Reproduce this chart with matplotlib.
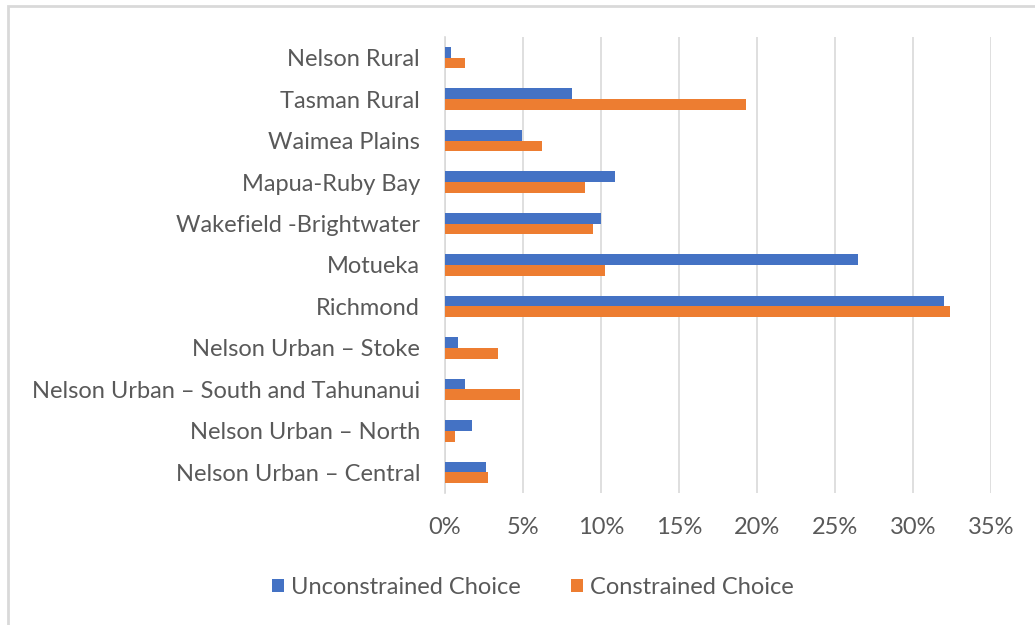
import matplotlib.pyplot as plt
import numpy as np
from matplotlib.patches import Rectangle
from matplotlib.ticker import FuncFormatter

# Areas listed top to bottom as in the chart
areas = ["Nelson Rural", "Tasman Rural", "Waimea Plains", "Mapua-Ruby Bay",
         "Wakefield -Brightwater", "Motueka", "Richmond",
         "Nelson Urban \u2013 Stoke", "Nelson Urban \u2013 South and Tahunanui",
         "Nelson Urban \u2013 North", "Nelson Urban \u2013 Central"]
unconstrained = [0.4, 8.15, 4.95, 10.9, 10.0, 26.5, 32.0, 0.85, 1.3, 1.75, 2.6]
constrained = [1.3, 19.3, 6.2, 8.95, 9.5, 10.25, 32.4, 3.4, 4.8, 0.65, 2.75]
xticks = [0, 5, 10, 15, 20, 25, 30, 35]

blue = "#4472C4"
orange = "#ED7D31"
grey_text = "#595959"

plt.rcParams['font.family'] = ['Lato', 'DejaVu Sans']

fig = plt.figure(figsize=(10.35, 6.25), dpi=100)
ax = fig.add_axes([0.43, 0.211, 0.5275, 0.730])

y = np.arange(len(areas))
h = 0.26
ax.barh(y - h / 2, unconstrained, height=h, color=blue, label="Unconstrained Choice", zorder=3)
ax.barh(y + h / 2, constrained, height=h, color=orange, label="Constrained Choice", zorder=3)

ax.set_yticks(y)
ax.set_yticklabels(areas, fontsize=17, color=grey_text)
ax.set_ylim(len(areas) - 0.5, -0.5)

ax.set_xlim(0, 35)
ax.set_xticks(xticks)
ax.xaxis.set_major_formatter(FuncFormatter(lambda v, p: f"{v:.0f}%"))
ax.tick_params(axis='x', labelsize=17, colors=grey_text, length=0, pad=17)
ax.tick_params(axis='y', length=0, pad=18)
ax.grid(axis='x', color='#D9D9D9', linewidth=1.2, zorder=0)

for s in ['top', 'right', 'bottom']:
    ax.spines[s].set_visible(False)
ax.spines['left'].set_color('#D9D9D9')
ax.spines['left'].set_linewidth(1.2)

leg = fig.legend(loc='center', bbox_to_anchor=(0.515, 0.06), ncol=2, frameon=False,
                 fontsize=17, handlelength=0.5, handleheight=0.5, handletextpad=0.3,
                 columnspacing=2.15)
for t in leg.get_texts():
    t.set_color(grey_text)

# light frame around the chart
fig.patches.append(Rectangle((8 / 1035, -0.05), 1.1, (625 - 6) / 625 + 0.05,
                             transform=fig.transFigure, fill=False,
                             edgecolor='#D9D9D9', linewidth=2))

fig.savefig("out.png", dpi=100)
